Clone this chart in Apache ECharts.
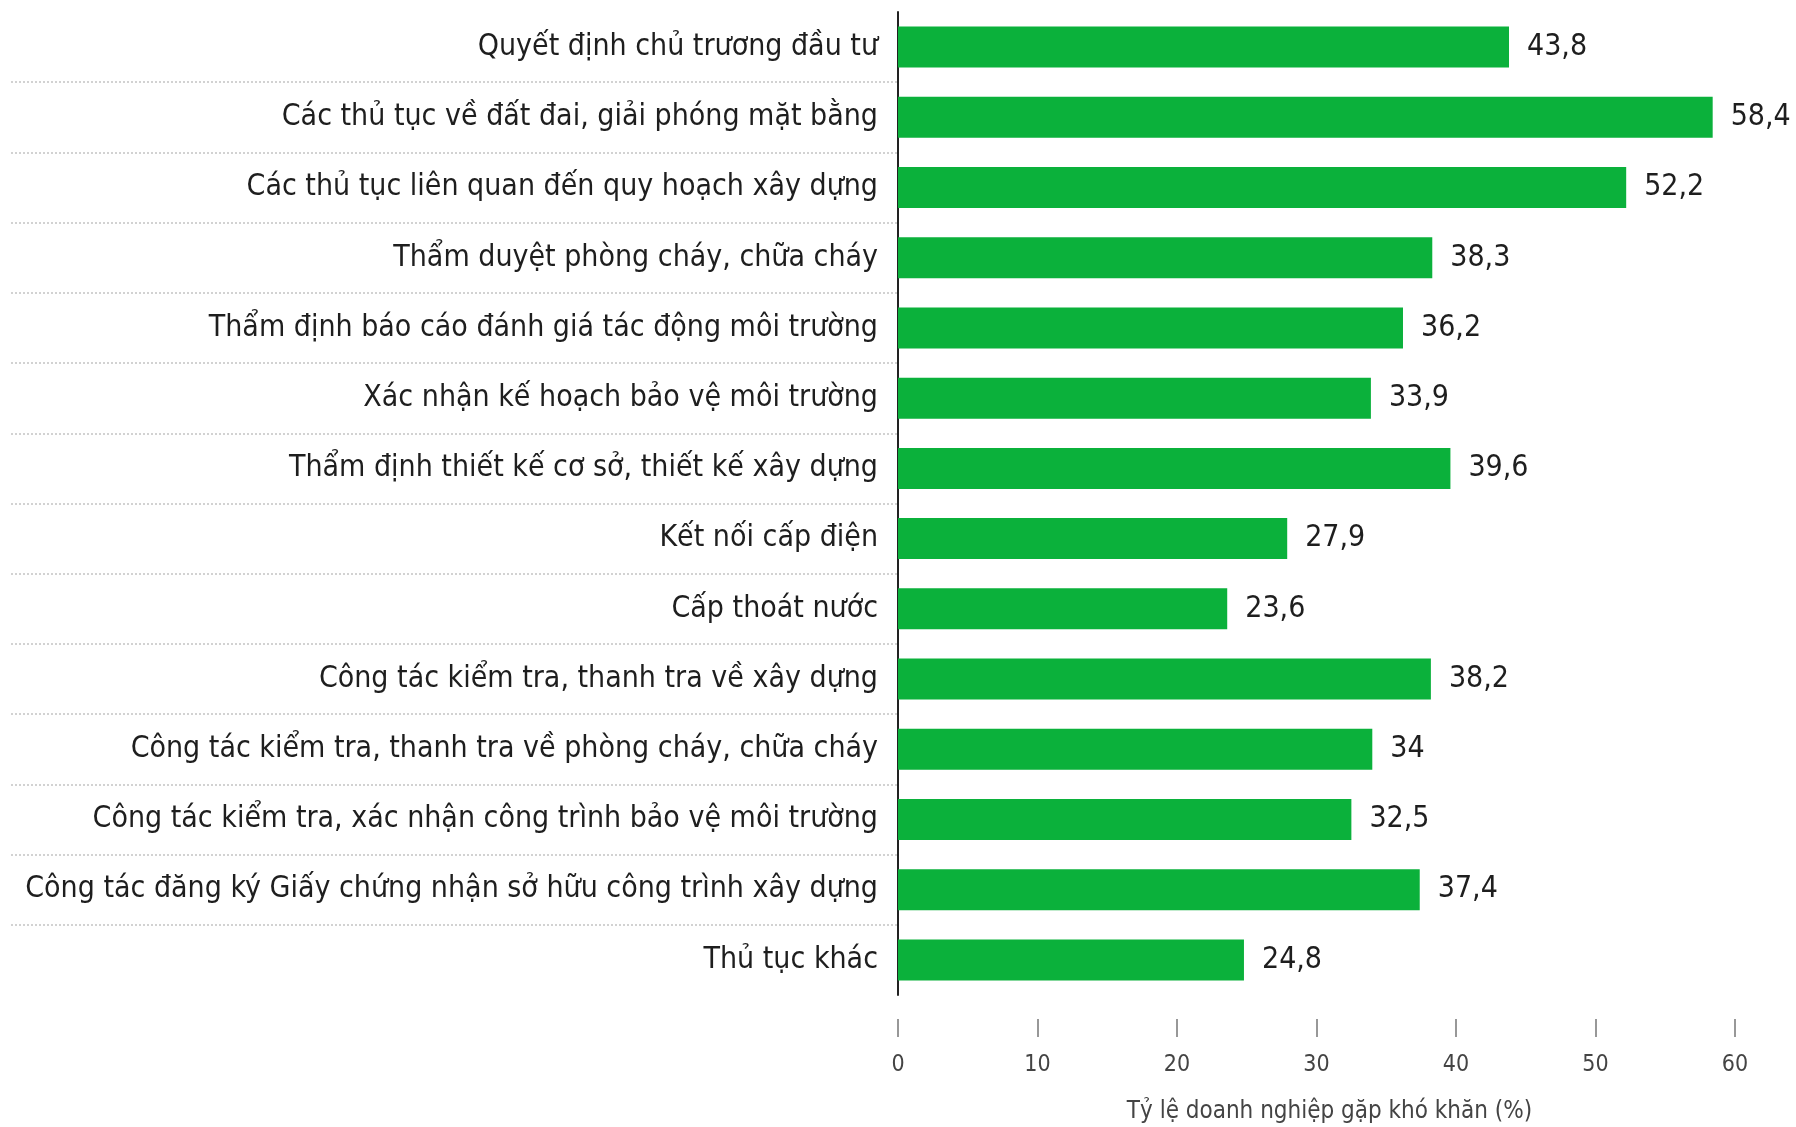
<!DOCTYPE html>
<html>
<head>
<meta charset="utf-8">
<script src="https://cdn.jsdelivr.net/npm/echarts@6/dist/echarts.min.js"></script>
<style>
  html, body { margin: 0; padding: 0; background: #fff; }
  #chart { width: 1796px; height: 1127px; }
</style>
</head>
<body>
<div id="chart"></div>
<script>
  const categories = [
    "Quyết định chủ trương đầu tư",
    "Các thủ tục về đất đai, giải phóng mặt bằng",
    "Các thủ tục liên quan đến quy hoạch xây dựng",
    "Thẩm duyệt phòng cháy, chữa cháy",
    "Thẩm định báo cáo đánh giá tác động môi trường",
    "Xác nhận kế hoạch bảo vệ môi trường",
    "Thẩm định thiết kế cơ sở, thiết kế xây dựng",
    "Kết nối cấp điện",
    "Cấp thoát nước",
    "Công tác kiểm tra, thanh tra về xây dựng",
    "Công tác kiểm tra, thanh tra về phòng cháy, chữa cháy",
    "Công tác kiểm tra, xác nhận công trình bảo vệ môi trường",
    "Công tác đăng ký Giấy chứng nhận sở hữu công trình xây dựng",
    "Thủ tục khác"
  ];
  const values = [43.8, 58.4, 52.2, 38.3, 36.2, 33.9, 39.6, 27.9, 23.6, 38.2, 34, 32.5, 37.4, 24.8];
  const xTicks = [0, 60, 10]; // min, max, step
  const axisTitle = "Tỷ lệ doanh nghiệp gặp khó khăn (%)";

  const font = "'Liberation Sans Narrow', 'DejaVu Sans Condensed', sans-serif";
  const chart = echarts.init(document.getElementById("chart"));

  const option = {
    animation: false,
    backgroundColor: "#fff",
    grid: [
      { left: 898, right: 61, top: 12, bottom: 132, outerBoundsMode: "none" },
      // label area, only used for the dotted separators
      { left: 11, width: 887, top: 12, bottom: 132, outerBoundsMode: "none" }
    ],
    xAxis: [
      {
        type: "value",
        gridIndex: 0,
        min: xTicks[0],
        max: xTicks[1],
        interval: xTicks[2],
        offset: 24,
        axisLine: { show: false },
        axisTick: { show: true, length: 18, lineStyle: { color: "#777", width: 1.5 } },
        splitLine: { show: false },
        axisLabel: { fontFamily: font, fontSize: 23, color: "#444", margin: 35 },
        name: axisTitle,
        nameLocation: "middle",
        nameGap: 81,
        nameTextStyle: { fontFamily: font, fontSize: 24, color: "#444", padding: [0, 0, 0, 26] }
      },
      { type: "value", gridIndex: 1, show: false }
    ],
    yAxis: [
      {
        type: "category",
        gridIndex: 0,
        data: categories,
        inverse: true,
        axisLine: { show: true, lineStyle: { color: "#222", width: 2 } },
        axisTick: { show: false },
        axisLabel: { fontFamily: font, fontSize: 30, color: "#1e1e1e", margin: 20 }
      },
      {
        type: "category",
        gridIndex: 1,
        data: categories,
        inverse: true,
        axisLine: { show: false },
        axisTick: { show: false },
        axisLabel: { show: false },
        splitLine: {
          show: true,
          showMinLine: false,
          showMaxLine: false,
          lineStyle: { color: "#c4c4c4", type: [2, 2], width: 1.5 }
        }
      }
    ],
    series: [
      {
        type: "bar",
        xAxisIndex: 0,
        yAxisIndex: 0,
        data: values,
        barWidth: 41,
        itemStyle: { color: "#0bb13b" },
        label: {
          show: true,
          position: "right",
          distance: 18,
          fontFamily: font,
          fontSize: 30,
          color: "#1e1e1e",
          formatter: (p) => String(p.value).replace(".", ",")
        }
      }
    ]
  };

  chart.setOption(option);
  window.addEventListener("resize", function () {
    chart.resize();
  });
</script>
</body>
</html>
